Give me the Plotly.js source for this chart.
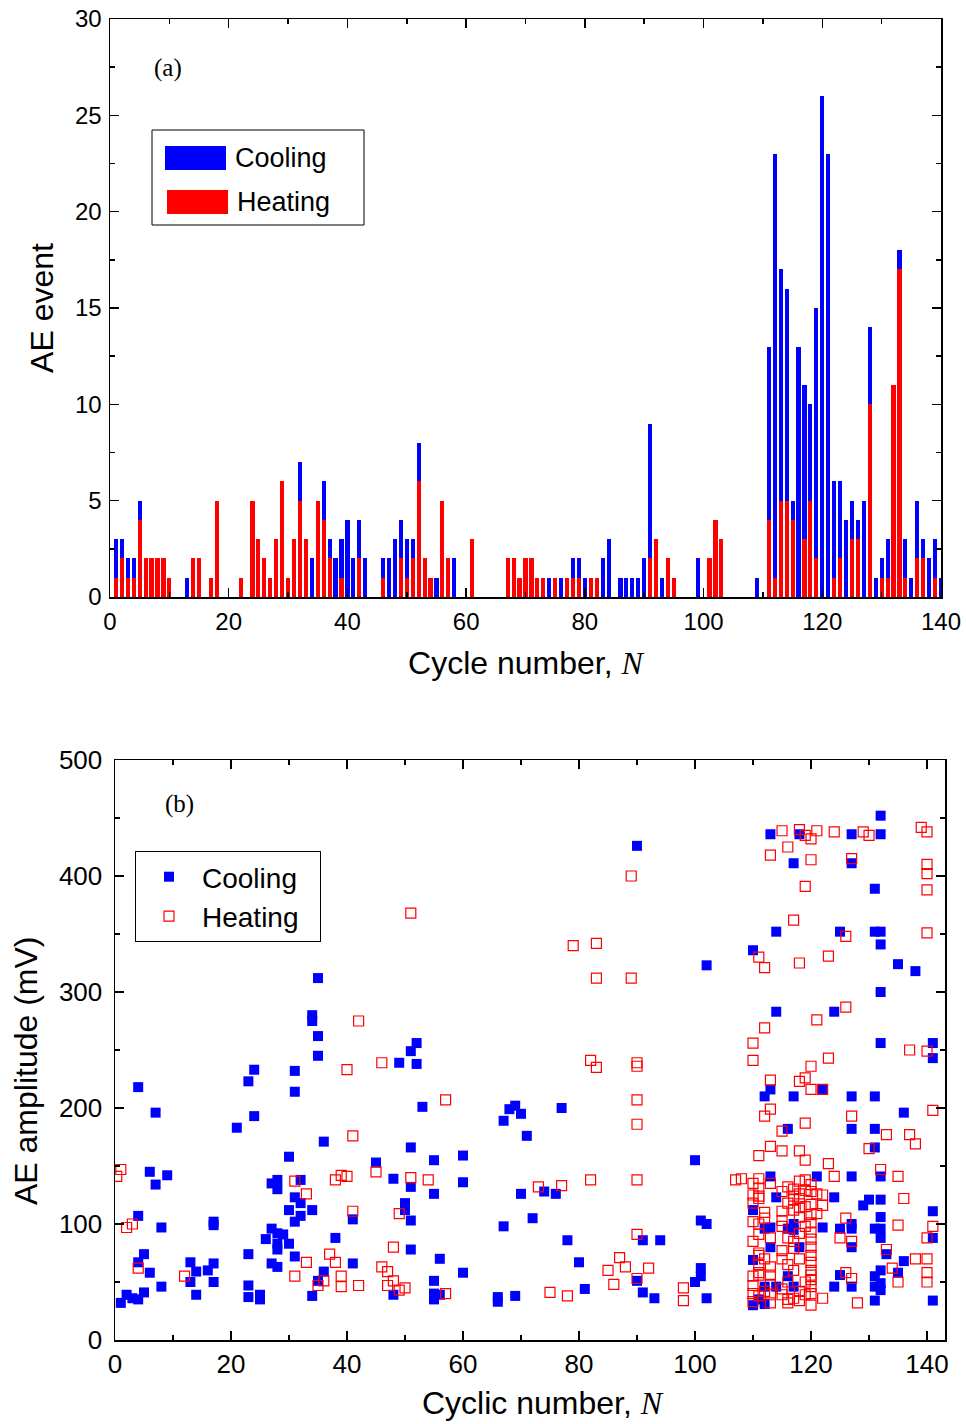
<!DOCTYPE html>
<html><head><meta charset="utf-8">
<script src="https://cdn.plot.ly/plotly-3.0.1.min.js"></script>
<style>body{margin:0;background:#fff}#chart{width:966px;height:1424px}</style>
</head><body><div id="chart"></div>
<script>
// ---------- (a) AE events per cycle ----------
const cycles = Array.from({length:140},(_,i)=>i+1);
// total AE events per cycle (top of blue bar)
const totalEvents = [3,3,2,2,5,2,2,2,2,1, 0,0,1,2,2,0,1,5,0,0, 0,1,0,5,3,2,1,3,6,1,
 3,7,3,2,5,6,3,2,3,4, 2,4,2,0,0,2,2,3,4,3, 3,8,2,1,1,5,2,2,0,0,
 3,0,0,0,0,0,2,2,1,2, 2,1,1,1,1,1,1,2,2,1, 1,1,2,3,0,1,1,1,1,2,
 9,3,1,2,1,0,0,0,2,0, 2,4,3,0,0,0,0,0,1,0, 13,23,17,16,5,13,11,10,15,26,
 23,6,6,4,5,4,5,14,1,2, 3,11,18,3,1,5,3,2,3,1];
// heating events per cycle (red bar)
const heatingEvents = [1,2,1,1,4,2,2,2,2,1, 0,0,0,2,2,0,1,5,0,0, 0,1,0,5,3,2,1,3,6,1,
 3,5,3,0,5,4,2,0,1,0, 0,2,0,0,0,1,0,0,2,1, 2,6,2,1,0,5,2,0,0,0,
 3,0,0,0,0,0,2,2,1,2, 2,1,1,0,1,0,1,1,1,0, 1,1,0,0,0,0,0,0,0,0,
 2,3,0,2,1,0,0,0,0,0, 2,4,3,0,0,0,0,0,0,0, 4,1,5,5,4,0,3,5,2,0,
 0,1,2,0,3,3,0,10,0,1, 1,11,17,1,0,2,2,0,1,0];
const coolingEvents = totalEvents.map((t,i)=>t-heatingEvents[i]);

// ---------- (b) AE amplitude ----------
const coolX = [35,34,34,35,35,24,23,31,31,4,7,24,21,36,30,6,9,7,28,27,28,32,31,32,30,34,32,31,41,4,8,17,17,27,28,29,26,30,28,28,38,5,4,23,31,13,14,17,16,17,27,28,6,13,8,23,36,41,35,34,2,5,3,4,1,14,23,25,25,
 90,52,51,49,52,53,69,68,70,67,77,71,51,60,55,45,48,51,60,55,70,74,76,50,50,51,67,72,78,51,56,80,60,55,55,56,55,48,66,66,69,81,
 90,91,93,91,94,100,101,101,102,100,101,102,102,
 113,118,117,114,110,114,124,125,132,127,132,127,131,131,132,132,135,138,132,132,141,141,
 113,112,117,122,116,113,121,114,124,127,131,136,127,131,131,127,132,
 110,112,113,116,117,117,122,113,118,110,116,112,114,117,124,111,110,112,125,
 130,132,129,141,132,127,125,127,131,132,132,141,127,133,136,135,132,131,132,132,131,127,131,141];
const coolY = [312,280,275,262,245,233,223,232,214,218,196,193,183,171,158,145,142,134,138,135,130,138,123,118,112,112,107,102,104,107,97,102,99,96,92,91,87,83,83,78,88,74,67,74,72,67,59,66,60,50,66,63,58,50,46,47,59,66,51,38,39,41,36,35,32,39,37,39,35,
 426,256,249,239,238,201,202,199,195,189,200,176,166,159,155,153,139,132,136,126,126,128,126,118,112,103,98,105,86,78,70,67,58,51,40,39,35,39,37,33,38,44,
 51,41,36,86,86,50,62,55,36,155,103,100,323,
 436,436,411,352,336,283,283,352,452,436,436,411,389,352,352,341,324,318,300,256,256,243,
 216,210,210,216,182,141,141,123,123,210,210,196,182,182,166,141,141,
 112,96,97,96,100,95,97,80,80,69,55,46,46,46,46,35,30,31,56,
 121,121,116,111,106,100,96,96,96,96,88,88,80,74,68,58,60,55,49,43,46,46,34,34];
const heatX = [42,40,41,1,0.3,31,33,38,39,40,41,2,3,4,12,31,33,37,38,39,39,42,35,36,
 89,51,79,83,83,89,46,82,83,90,90,57,90,90,45,51,54,73,77,82,90,49,48,90,46,47,48,47,50,49,57,75,78,87,88,85,86,90,92,98,98,
 115,118,119,120,121,124,116,113,120,119,117,111,112,118,123,121,112,110,110,123,
 129,130,127,139,140,140,140,140,140,126,126,137,140,
 120,113,119,118,120,122,113,112,119,115,113,115,118,111,119,123,108,111,124,113,111,116,118,119,120,119,118,121,122,111,117,
 141,127,133,137,138,130,132,135,136,
 111,117,118,120,122,115,118,119,121,112,110,115,118,119,120,111,120,115,117,111,113,116,120,111,113,120,110,119,120,122,115,116,118,120,119,113,
 126,135,141,125,127,140,133,138,140,134,126,127,135,140,140,128,
 110,111,111,107,
 120,120,120,120,120,120,120,120,110,110,110,111,110,111,110,111,110,112,113,112,113,112,113,115,116,115,116,115,116,115,116,117,117,118,117,118,117,118,117];
const heatY = [275,233,176,147,141,137,126,138,142,141,111,97,100,62,55,55,67,74,67,55,46,47,47,51,
 400,368,340,342,312,312,239,241,235,239,236,207,207,186,145,140,138,132,133,138,138,109,80,91,63,59,51,47,45,43,40,41,38,71,63,60,48,53,62,45,34,
 439,440,435,432,439,438,425,418,414,391,362,330,321,325,331,276,269,256,241,243,
 438,435,415,442,438,410,402,388,351,348,287,250,249,
 236,224,226,223,216,216,199,193,187,180,167,163,163,159,155,152,139,139,141,135,131,132,137,138,134,129,126,126,125,124,124,
 198,193,177,177,169,165,147,141,122,
 122,121,122,117,116,111,114,115,109,105,102,103,106,98,93,91,87,77,79,73,63,65,67,56,56,56,47,50,46,36,39,32,34,30,39,39,
 105,99,98,88,85,88,78,70,70,62,58,53,50,58,50,32,
 40,75,58,138,
 128,108,101,80,73,60,52,40,135,125,118,100,85,65,55,38,33,110,88,70,48,42,32,128,118,98,88,70,50,44,35,130,112,92,85,70,60,42,36];

const W=966,H=1424;
const dx=(a,b)=>[a/W,b/W], dy=(top,bot)=>[1-bot/H,1-top/H];
const sans="'Liberation Sans', Arial, sans-serif";
const serif="'Liberation Serif', 'Times New Roman', serif";
const italicN = "<span style=\"font-family:'Liberation Serif';font-style:italic\">N</span>";
const sp = n => '\u00a0'.repeat(n);

const axisCommon = {showgrid:false, zeroline:false, showline:true, linecolor:'black', linewidth:1.5,
  mirror:'ticks', ticks:'inside', ticklen:9, tickwidth:1.5, tickcolor:'black', fixedrange:true};

const traces = [
  {type:'bar', x:cycles, y:heatingEvents, name:'Heating', marker:{color:'#ff0000'}, width:0.7, xaxis:'x', yaxis:'y', showlegend:false},
  {type:'bar', x:cycles, y:coolingEvents, name:'Cooling', marker:{color:'#0000ff'}, width:0.7, xaxis:'x', yaxis:'y', showlegend:false},
  {type:'scatter', mode:'markers', x:coolX, y:coolY, name:'Cooling'+sp(2), xaxis:'x2', yaxis:'y2', legend:'legend2', legendgroup:'c',
   marker:{symbol:'square', size:10, color:'#0000ff'}},
  {type:'scatter', mode:'markers', x:heatX, y:heatY, name:'Heating'+sp(2), xaxis:'x2', yaxis:'y2', legend:'legend2', legendgroup:'h',
   marker:{symbol:'square-open', size:10, color:'#ff0000', line:{width:1.2}}}
];

const layout = {
  width:W, height:H, margin:{l:0,r:0,t:0,b:0}, paper_bgcolor:'white', plot_bgcolor:'white',
  barmode:'stack', bargap:0,
  font:{family:sans, color:'black', size:22},
  xaxis:Object.assign({}, axisCommon, {domain:dx(110,941), range:[0,140], dtick:20, tick0:0,
    minor:{dtick:10, ticks:'inside', ticklen:5, tickwidth:1.5, tickcolor:'black'}, ticklabelstandoff:3,
    tickfont:{size:24}, title:{text:'Cycle number, '+italicN, font:{size:32}, standoff:17}, anchor:'y'}),
  yaxis:Object.assign({}, axisCommon, {domain:dy(19,597), range:[0,30], dtick:5,
    minor:{dtick:2.5, ticks:'inside', ticklen:5, tickwidth:1.5, tickcolor:'black'}, ticklabelstandoff:2,
    tickfont:{size:24}, title:{text:'AE event', font:{size:32}, standoff:12}, anchor:'x'}),
  xaxis2:Object.assign({}, axisCommon, {domain:dx(115,945), range:[0,143.1], dtick:20, tick0:0,
    minor:{dtick:10, ticks:'inside', ticklen:5, tickwidth:1.5, tickcolor:'black'}, ticklabelstandoff:0,
    tickfont:{size:26}, anchor:'y2'}),
  yaxis2:Object.assign({}, axisCommon, {domain:dy(760,1340), range:[0,500], dtick:100,
    minor:{dtick:50, ticks:'inside', ticklen:5, tickwidth:1.5, tickcolor:'black'}, ticklabelstandoff:6,
    tickfont:{size:26}, anchor:'x2'}),
  showlegend:true,
  legend2:{x:135/W, y:1-851/H, xanchor:'left', yanchor:'top', bgcolor:'white', bordercolor:'black', borderwidth:1,
    font:{size:28, family:sans}, itemwidth:56, tracegroupgap:0},
  shapes:[
    {type:'rect', xref:'paper', yref:'paper', x0:152/W, x1:364/W, y0:1-225/H, y1:1-130/H, line:{color:'black', width:1}, fillcolor:'white'},
    {type:'rect', xref:'paper', yref:'paper', x0:165/W, x1:226/W, y0:1-170/H, y1:1-146/H, line:{width:0}, fillcolor:'#0000ff'},
    {type:'rect', xref:'paper', yref:'paper', x0:167/W, x1:228/W, y0:1-214/H, y1:1-190/H, line:{width:0}, fillcolor:'#ff0000'}
  ],
  annotations:[
    {xref:'paper', yref:'paper', x:233/W, y:1-158/H, xanchor:'left', yanchor:'middle', text:'Cooling', showarrow:false, font:{size:27}},
    {xref:'paper', yref:'paper', x:235/W, y:1-202/H, xanchor:'left', yanchor:'middle', text:'Heating', showarrow:false, font:{size:27}},
    {xref:'paper', yref:'paper', x:168/W, y:1-68/H, xanchor:'center', yanchor:'middle', text:'(a)', showarrow:false, font:{size:25, family:serif}},
    {xref:'paper', yref:'paper', x:179/W, y:1-804/H, xanchor:'center', yanchor:'middle', text:'(b)', showarrow:false, font:{size:25, family:serif}},
    {xref:'paper', yref:'paper', x:543/W, y:1-1403/H, xanchor:'center', yanchor:'middle', text:'Cyclic number, '+italicN, showarrow:false, font:{size:32}},
    {xref:'paper', yref:'paper', x:26/W, y:1-1071/H, xanchor:'center', yanchor:'middle', textangle:-90, text:'AE amplitude (mV)', showarrow:false, font:{size:32}}
  ]
};

Plotly.newPlot('chart', traces, layout, {staticPlot:true, displayModeBar:false});
</script></body></html>
